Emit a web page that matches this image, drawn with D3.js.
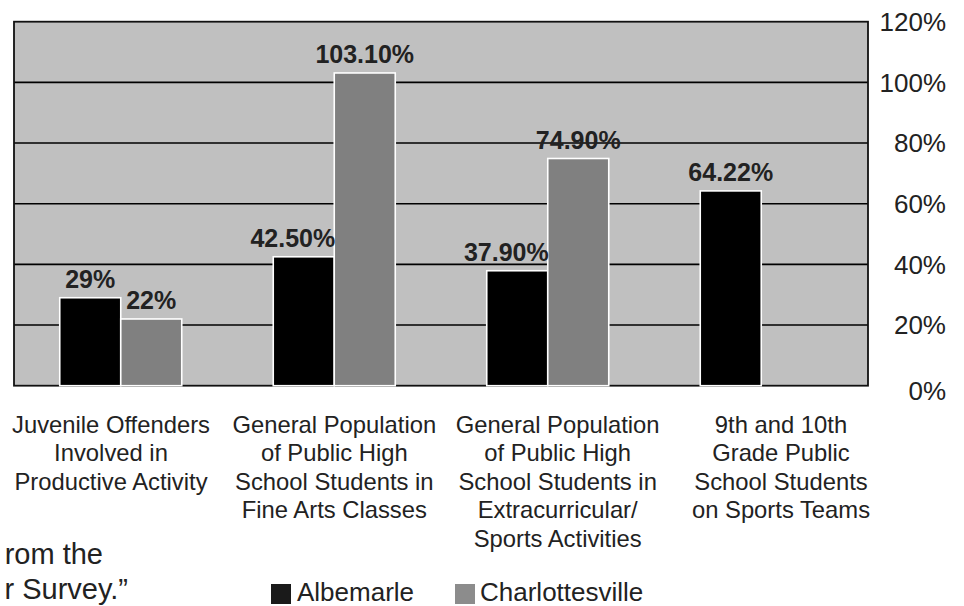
<!DOCTYPE html>
<html>
<head>
<meta charset="utf-8">
<script src="https://cdn.jsdelivr.net/npm/d3@7"></script>
<style>
  html, body { margin: 0; padding: 0; background: #ffffff; }
  svg { display: block; }
  text { font-family: "Liberation Sans", Arial, Helvetica, sans-serif; }
</style>
</head>
<body>
<svg id="chart" width="964" height="606"></svg>
<script>
// ---- data ----
const categories = [
  "Juvenile Offenders\nInvolved in\nProductive Activity",
  "General Population\nof Public High\nSchool Students in\nFine Arts Classes",
  "General Population\nof Public High\nSchool Students in\nExtracurricular/\nSports Activities",
  "9th and 10th\nGrade Public\nSchool Students\non Sports Teams"
];
const seriesNames = ["Albemarle", "Charlottesville"];
const albemarle = [29, 42.5, 37.9, 64.22];
const charlottesville = [22, 103.1, 74.9, null];
const albemarleLabels = ["29%", "42.50%", "37.90%", "64.22%"];
const charlottesvilleLabels = ["22%", "103.10%", "74.90%", null];
const yTicks = [0, 20, 40, 60, 80, 100, 120];
const yTickLabels = ["0%", "20%", "40%", "60%", "80%", "100%", "120%"];
const captionLines = ["rom the", "r Survey.\u201D"];

// ---- layout ----
const svg = d3.select("#chart");
const plot = { left: 14, right: 868, top: 21.7, bottom: 385.7 };
const colors = { Albemarle: "#000000", Charlottesville: "#808080" };

const x0 = d3.scaleBand().domain(categories).range([plot.left, plot.right]).paddingInner(0).paddingOuter(0);
const x1 = d3.scaleBand().domain(seriesNames).range([0, x0.bandwidth()]).paddingInner(0).paddingOuter(0.75);
const y = d3.scaleLinear().domain([0, 120]).range([plot.bottom, plot.top]);
const labelX = d3.scalePoint().domain(categories).range([111, 781]);

// plot background
svg.append("rect")
  .attr("x", plot.left).attr("y", plot.top)
  .attr("width", plot.right - plot.left).attr("height", plot.bottom - plot.top)
  .attr("fill", "#c0c0c0");

// gridlines
svg.append("g").selectAll("line")
  .data(yTicks.filter(t => t > 0 && t < 120))
  .join("line")
  .attr("x1", plot.left).attr("x2", plot.right)
  .attr("y1", d => y(d)).attr("y2", d => y(d))
  .attr("stroke", "#000").attr("stroke-width", 1.6);

// frame
svg.append("rect")
  .attr("x", plot.left).attr("y", plot.top)
  .attr("width", plot.right - plot.left).attr("height", plot.bottom - plot.top)
  .attr("fill", "none").attr("stroke", "#111").attr("stroke-width", 1.8);

// bars
const rows = categories.map((c, i) => ({
  cat: c,
  vals: [
    { s: "Albemarle", v: albemarle[i], label: albemarleLabels[i] },
    { s: "Charlottesville", v: charlottesville[i], label: charlottesvilleLabels[i] }
  ]
}));

const groups = svg.append("g").selectAll("g")
  .data(rows).join("g")
  .attr("transform", d => `translate(${x0(d.cat)},0)`);

groups.selectAll("rect")
  .data(d => d.vals.filter(v => v.v != null))
  .join("rect")
  .attr("x", d => x1(d.s))
  .attr("y", d => y(d.v))
  .attr("width", x1.bandwidth())
  .attr("height", d => y(0) - y(d.v))
  .attr("fill", d => colors[d.s])
  .attr("stroke", "#ffffff").attr("stroke-width", 1.6);

// value labels
groups.each(function(d) {
  const g = d3.select(this);
  d.vals.forEach((v, i) => {
    if (v.v == null) return;
    const other = d.vals[1 - i];
    let anchor = "middle";
    let tx = x1(v.s) + x1.bandwidth() / 2;
    // if the neighbouring bar on the right is taller, align the label to this bar's right edge
    if (i === 0 && other.v != null && other.v > v.v) {
      anchor = "end";
      tx = x1(v.s) + x1.bandwidth() + 1;
    }
    g.append("text")
      .attr("x", tx)
      .attr("y", y(v.v) - 10)
      .attr("text-anchor", anchor)
      .attr("font-size", 25)
      .attr("font-weight", "bold")
      .attr("fill", "#222")
      .text(v.label);
  });
});

// right axis tick labels
svg.append("g").selectAll("text")
  .data(yTicks)
  .join("text")
  .attr("x", 946)
  .attr("y", d => y(d) + (d === 0 ? 5 : 0))
  .attr("dy", "0.36em")
  .attr("text-anchor", "end")
  .attr("font-size", 26)
  .attr("fill", "#222")
  .text((d, i) => yTickLabels[i]);

// category labels
const catG = svg.append("g").selectAll("text")
  .data(categories).join("text")
  .attr("x", d => labelX(d))
  .attr("y", 432.5)
  .attr("text-anchor", "middle")
  .attr("font-size", 23.8)
  .attr("fill", "#222");
catG.selectAll("tspan")
  .data(d => d.split("\n").map(t => ({ t, c: d })))
  .join("tspan")
  .attr("x", d => labelX(d.c))
  .attr("dy", (d, i) => i === 0 ? 0 : 28.5)
  .text(d => d.t);

// caption fragment (left, cut off)
svg.append("g").selectAll("text")
  .data(captionLines).join("text")
  .attr("x", (d, i) => i === 0 ? 103 : 128)
  .attr("y", (d, i) => 564 + i * 35)
  .attr("text-anchor", "end")
  .attr("font-size", 29)
  .attr("fill", "#222")
  .text(d => d);

// legend
const legendX = [271, 455];
const lg = svg.append("g").selectAll("g")
  .data(seriesNames).join("g")
  .attr("transform", (d, i) => `translate(${legendX[i]},584)`);
lg.append("rect")
  .attr("width", 20).attr("height", 20)
  .attr("fill", d => d === "Albemarle" ? "#1a1a1a" : "#8c8c8c");
lg.append("text")
  .attr("x", d => d === "Albemarle" ? 26 : 25)
  .attr("y", 17)
  .attr("font-size", 26)
  .attr("fill", "#222")
  .text(d => d);
</script>
</body>
</html>
